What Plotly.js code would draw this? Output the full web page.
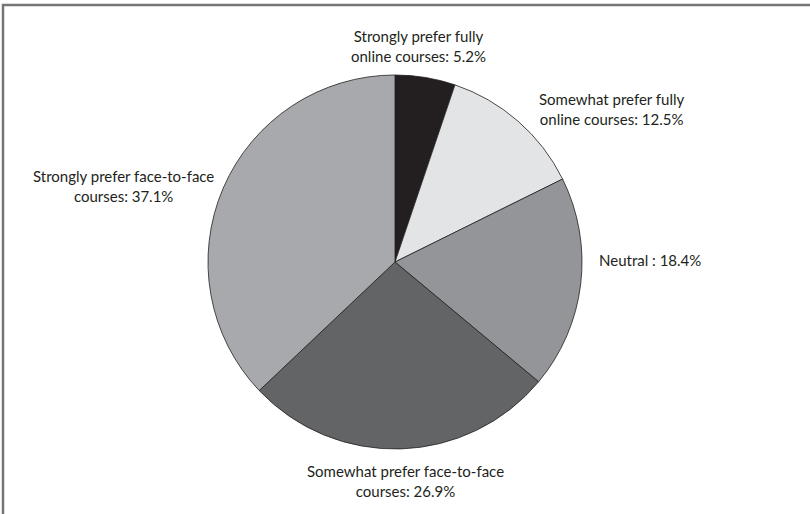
<!DOCTYPE html>
<html>
<head>
<meta charset="utf-8">
<script src="https://cdn.plot.ly/plotly-3.0.1.min.js"></script>
<style>
  html, body { margin: 0; padding: 0; background: #ffffff; }
  #chart { width: 810px; height: 514px; }
</style>
</head>
<body>
<div id="chart"></div>
<script>
// Data
var categoryLines = [
  ["Strongly prefer fully", "online courses"],
  ["Somewhat prefer fully", "online courses"],
  ["Neutral"],
  ["Somewhat prefer face-to-face", "courses"],
  ["Strongly prefer face-to-face", "courses"]
];
var values = [5.2, 12.5, 18.4, 26.9, 37.1];
var sliceColors = ["#231f20", "#e3e4e6", "#939598", "#636466", "#a7a9ac"];

var categories = categoryLines.map(function (l) { return l.join(" "); });

// label placement (paper coords) and alignment
var labelPos = [
  {x: 418 / 810, y: 1 - 46 / 514, xanchor: "center"},
  {x: 612 / 810, y: 1 - 109 / 514, xanchor: "center"},
  {x: 597 / 810, y: 1 - 260 / 514, xanchor: "left"},
  {x: 405 / 810, y: 1 - 481 / 514, xanchor: "center"},
  {x: 123 / 810, y: 1 - 186 / 514, xanchor: "center"}
];

var annotations = categoryLines.map(function (lines, i) {
  var sep = lines.length === 1 ? " : " : ": ";
  return {
    xref: "paper", yref: "paper",
    x: labelPos[i].x, y: labelPos[i].y,
    xanchor: labelPos[i].xanchor, yanchor: "middle",
    align: "center",
    showarrow: false,
    text: lines.join("<br>") + sep + values[i] + "%",
    font: {family: "Lato, 'Open Sans', sans-serif", size: 15, color: "#231f20"}
  };
});

var trace = {
  type: "pie",
  labels: categories,
  values: values,
  sort: false,
  direction: "clockwise",
  rotation: 0,
  textinfo: "none",
  hoverinfo: "label+percent",
  marker: {colors: sliceColors, line: {color: "#231f20", width: 0.8}},
  domain: {x: [208 / 810, 582 / 810], y: [65 / 514, 439 / 514]},
  showlegend: false
};

var layout = {
  width: 810, height: 514,
  margin: {l: 0, r: 0, t: 0, b: 0},
  paper_bgcolor: "#ffffff",
  showlegend: false,
  annotations: annotations,
  shapes: [{
    type: "path", xref: "paper", yref: "paper",
    path: "M 0.0037 0 L 0.0037 0.9903 L 1 0.9903",
    line: {color: "#767676", width: 2.5}
  }]
};

Plotly.newPlot("chart", [trace], layout, {displayModeBar: false, staticPlot: true});
</script>
</body>
</html>
